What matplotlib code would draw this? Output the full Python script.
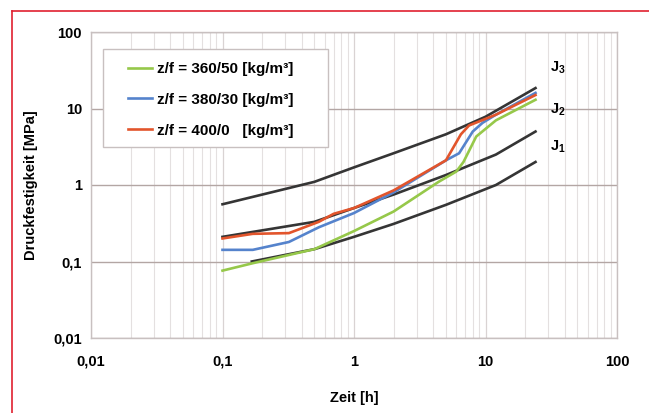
import matplotlib
matplotlib.use("Agg")
import matplotlib.pyplot as plt
from matplotlib.ticker import LogLocator, NullFormatter
from matplotlib.patches import Rectangle
from matplotlib.lines import Line2D

plt.rcParams['font.family'] = ['Liberation Sans', 'DejaVu Sans']
plt.rcParams['mathtext.fontset'] = 'custom'
plt.rcParams['mathtext.rm'] = 'Liberation Sans:bold'
plt.rcParams['mathtext.bf'] = 'Liberation Sans:bold'

# ---- data ----
j3_x = [0.1, 0.5, 1, 2, 5, 10, 24]
j3_y = [0.56, 1.1, 1.7, 2.6, 4.6, 7.8, 18.5]
j2_x = [0.1, 0.5, 1, 2, 5, 12, 24]
j2_y = [0.21, 0.33, 0.5, 0.75, 1.35, 2.5, 5.0]
j1_x = [0.167, 0.5, 1, 2, 5, 12, 24]
j1_y = [0.1, 0.145, 0.21, 0.31, 0.55, 1.0, 2.0]

green_x = [0.1, 0.17, 0.5, 1, 2, 4.4, 6, 6.8, 8.5, 12, 24]
green_y = [0.076, 0.095, 0.145, 0.25, 0.45, 1.1, 1.5, 2.0, 4.3, 7.0, 13]
blue_x = [0.1, 0.17, 0.32, 0.54, 1, 2, 5, 6.3, 8, 9.5, 12, 24]
blue_y = [0.142, 0.142, 0.18, 0.28, 0.43, 0.8, 2.1, 2.6, 5.0, 6.5, 8.3, 16]
orange_x = [0.1, 0.17, 0.32, 0.54, 0.7, 1, 2, 5, 6.5, 7.5, 12, 24]
orange_y = [0.2, 0.23, 0.235, 0.33, 0.42, 0.5, 0.85, 2.1, 4.6, 6.0, 8.3, 15]

legend_labels = ['z/f = 360/50 [kg/m³]', 'z/f = 380/30 [kg/m³]', 'z/f = 400/0   [kg/m³]']
x_ticks = [0.01, 0.1, 1, 10, 100]
x_ticklabels = ['0,01', '0,1', '1', '10', '100']
y_ticks = [0.01, 0.1, 1, 10, 100]
y_ticklabels = ['0,01', '0,1', '1', '10', '100']

c_green = '#96c84a'
c_blue = '#5583cc'
c_orange = '#e2552c'
c_black = '#353535'

fs = 10.5
fig = plt.figure(figsize=(6.49, 4.13), dpi=100)
ax = fig.add_axes([91/649, 1-338/413, 526/649, 306/413])
ax.set_xscale('log')
ax.set_yscale('log')
ax.set_xlim(0.01, 100)
ax.set_ylim(0.01, 100)

# grid
ax.xaxis.set_minor_locator(LogLocator(base=10, subs=range(2, 10)))
ax.yaxis.set_minor_locator(LogLocator(base=10, subs=range(2, 10)))
ax.xaxis.set_minor_formatter(NullFormatter())
ax.yaxis.set_minor_formatter(NullFormatter())
ax.grid(True, which='major', axis='x', color='#d9d3d3', lw=0.9)
ax.grid(True, which='minor', axis='x', color='#e4e0e0', lw=0.8)
ax.grid(True, which='major', axis='y', color='#b3a6a4', lw=1.0)
ax.set_axisbelow(True)

lw = 1.9
ax.plot(j3_x, j3_y, color=c_black, lw=lw)
ax.plot(j2_x, j2_y, color=c_black, lw=lw)
ax.plot(j1_x, j1_y, color=c_black, lw=lw)
ax.plot(green_x, green_y, color=c_green, lw=lw)
ax.plot(blue_x, blue_y, color=c_blue, lw=lw)
ax.plot(orange_x, orange_y, color=c_orange, lw=lw)

ax.set_xticks(x_ticks)
ax.set_xticklabels(x_ticklabels, fontsize=fs, fontweight='bold')
ax.set_yticks(y_ticks)
ax.set_yticklabels(y_ticklabels, fontsize=fs, fontweight='bold')
ax.tick_params(which='both', length=0)
ax.tick_params(axis='x', pad=12)
ax.tick_params(axis='y', pad=6.5)
for s in ax.spines.values():
    s.set_color('#c8c0c0')
    s.set_linewidth(1.0)

ax.set_xlabel('Zeit [h]', fontsize=fs, fontweight='bold', labelpad=16)
ax.set_ylabel('Druckfestigkeit [MPa]', fontsize=fs, fontweight='bold', labelpad=11)

# J labels
ax.text(0.873, 0.882, r'$\mathbf{J_3}$', transform=ax.transAxes, fontsize=fs, ha='left', va='center')
ax.text(0.873, 0.745, r'$\mathbf{J_2}$', transform=ax.transAxes, fontsize=fs, ha='left', va='center')
ax.text(0.873, 0.624, r'$\mathbf{J_1}$', transform=ax.transAxes, fontsize=fs, ha='left', va='center')

# legend box
bx0 = (103-91)/526
bx1 = (328-91)/526
by0 = (338-147)/306
by1 = (338-49)/306
ax.add_patch(Rectangle((bx0, by0), bx1-bx0, by1-by0, transform=ax.transAxes,
                       facecolor='white', edgecolor='#c8c0c0', lw=1.0, zorder=5))
handles = [Line2D([], [], color=c, lw=lw) for c in (c_green, c_blue, c_orange)]
leg = ax.legend(handles, legend_labels, loc='upper left',
                bbox_to_anchor=((128-91)/526, (338-62)/306),
                frameon=False, prop={'weight': 'bold', 'size': 11},
                handlelength=1.6, handletextpad=0.33, labelspacing=1.1,
                borderpad=0.0, borderaxespad=0.0)
leg.set_zorder(6)

# red border
fig.add_artist(Line2D([12/649, 1.0], [1-11/413, 1-11/413], color='#e02030', lw=1.2,
                      transform=fig.transFigure))
fig.add_artist(Line2D([12/649, 12/649], [1-11/413, 0.0], color='#e02030', lw=1.2,
                      transform=fig.transFigure))

fig.savefig('out.png', dpi=100)
